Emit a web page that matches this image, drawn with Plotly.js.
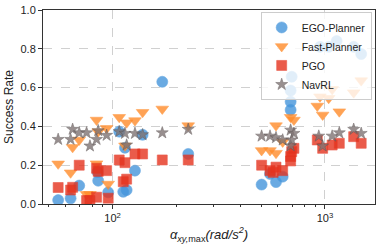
<!DOCTYPE html>
<html><head><meta charset="utf-8">
<script src="https://cdn.plot.ly/plotly-3.0.1.min.js"></script>
<style>html,body{margin:0;padding:0;background:#fff;}#chart{width:382px;height:252px;}</style>
</head><body><div id="chart"></div>
<script>
const egoX = [55.4, 63.4, 69.6, 85.5, 85.0, 95.3, 107.4, 114.3, 112.2, 116.4, 127.4, 138.4, 171.3, 227.0,
              503, 551, 588, 632, 697, 689, 689, 689, 947, 1041, 1135, 1365, 1481];
const egoY = [0.020, 0.029, 0.095, 0.120, 0.165, 0.060, 0.373, 0.290, 0.063, 0.072, 0.172, 0.357, 0.630, 0.258,
              0.100, 0.155, 0.113, 0.141, 0.656, 0.585, 0.527, 0.485, 0.810, 0.810, 0.840, 0.810, 0.773];

const fastX = [55.4, 63.4, 64.8, 69.6, 75.4, 78.2, 84.0, 84.0, 85.5, 93.7, 95.3, 107.4, 114.3, 116.4, 127.4, 138.4, 171.3, 227.0,
               503, 551, 588, 588, 632, 689, 714, 920, 947, 975, 1041, 1081, 1168, 1365, 1481];
const fastY = [0.207, 0.161, 0.292, 0.330, 0.050, 0.050, 0.433, 0.208, 0.373, 0.390, 0.103, 0.447, 0.300, 0.419, 0.430, 0.473, 0.490, 0.404,
               0.276, 0.276, 0.262, 0.404, 0.320, 0.447, 0.433, 0.505, 0.553, 0.459, 0.545, 0.591, 0.476, 0.574, 0.636];

const pgoX = [55.4, 63.4, 64.8, 69.6, 75.4, 78.2, 84.0, 84.0, 85.5, 93.7, 95.3, 107.4, 112.2, 114.3, 116.4, 127.4, 138.4, 171.3, 227.0,
              503, 551, 570, 588, 632, 689, 697, 714, 689, 920, 975, 1081, 1168, 1365, 1481];
const pgoY = [0.085, 0.072, 0.086, 0.200, 0.018, 0.018, 0.035, 0.184, 0.168, 0.172, 0.030, 0.227, 0.115, 0.213, 0.128, 0.258, 0.258, 0.227, 0.227,
              0.200, 0.172, 0.163, 0.190, 0.172, 0.245, 0.270, 0.287, 0.222, 0.330, 0.287, 0.304, 0.313, 0.347, 0.313];

const navX = [55.4, 63.4, 64.8, 69.6, 75.4, 78.2, 84.0, 85.5, 93.7, 107.4, 114.3, 116.4, 127.4, 138.4, 171.3, 227.0,
              503, 551, 588, 632, 689, 714, 689, 697, 935, 975, 1081, 1168, 1365, 1481];
const navY = [0.333, 0.333, 0.385, 0.367, 0.367, 0.299, 0.333, 0.378, 0.354, 0.373, 0.364, 0.304, 0.364, 0.357, 0.367, 0.385,
              0.350, 0.350, 0.342, 0.330, 0.381, 0.364, 0.300, 0.330, 0.350, 0.299, 0.350, 0.367, 0.385, 0.364];

const seriesNames = ['EGO-Planner', 'Fast-Planner', 'PGO', 'NavRL'];
const xTickVals = [100, 1000];
const xTickText = ['10<sup>2</sup>', '10<sup>3</sup>'];
const xMinorVals = [50, 60, 70, 80, 90, 200, 300, 400, 500, 600, 700, 800, 900];
const yTickVals = [0, 0.2, 0.4, 0.6, 0.8, 1.0];
const yTickText = ['0.0', '0.2', '0.4', '0.6', '0.8', '1.0'];

function tr(x, y, name, symbol, color, size, lc) {
  return {x: x, y: y, name: name, type: 'scatter', mode: 'markers',
    marker: {symbol: symbol, color: color, size: size, opacity: 0.8, line: {width: 0.6, color: lc}}};
}
const data = [
  tr(egoX, egoY, seriesNames[0], 'circle', '#4596dc', 11, '#4596dc'),
  tr(fastX, fastY, seriesNames[1], 'triangle-down', '#ff8c2a', 11, '#ff8c2a'),
  tr(pgoX, pgoY, seriesNames[2], 'square', '#e5331e', 10, '#e5331e'),
  tr(navX, navY, seriesNames[3], 'star', '#7f7474', 9, '#5e5555')
];
const font = {family: 'Liberation Sans, Arial, sans-serif', size: 11, color: '#222'};
const layout = {
  width: 382, height: 252,
  margin: {l: 43, r: 7, t: 10, b: 48},
  paper_bgcolor: '#fff', plot_bgcolor: '#fff',
  font: font,
  showlegend: true,
  legend: {x: 0.99, xanchor: 'right', y: 0.99, yanchor: 'top',
    bgcolor: 'rgba(255,255,255,0.8)', bordercolor: '#cccccc', borderwidth: 1,
    font: {family: 'Liberation Sans, Arial, sans-serif', size: 10.5, color: '#222'},
    itemsizing: 'trace', itemwidth: 30, tracegroupgap: 0},
  xaxis: {type: 'log', range: [Math.log10(47.0), Math.log10(1720)],
    tickvals: xTickVals, ticktext: xTickText, ticks: 'outside', ticklen: 4, tickcolor: '#333',
    minor: {tickvals: xMinorVals, ticks: 'outside', ticklen: 2, tickcolor: '#333', showgrid: false},
    showgrid: true, gridcolor: '#d0d0d0', griddash: 'dash', gridwidth: 1,
    showline: true, linecolor: '#333', linewidth: 1, mirror: true, zeroline: false,
    tickfont: {size: 11, color: '#222'},
    title: {text: '<i>α<sub>xy,</sub></i><sub>max</sub><i>(rad/s<sup>2</sup>)</i>', font: {size: 13, color: '#222'}, standoff: 6}},
  yaxis: {range: [0, 1.0], tickvals: yTickVals, ticktext: yTickText, ticks: 'outside', ticklen: 4, tickcolor: '#333',
    showgrid: true, gridcolor: '#d0d0d0', griddash: 'dash', gridwidth: 1,
    showline: true, linecolor: '#333', linewidth: 1, mirror: true, zeroline: false,
    tickfont: {size: 11, color: '#222'},
    title: {text: 'Success Rate', font: {size: 12, color: '#222'}, standoff: 4}}
};
Plotly.newPlot('chart', data, layout, {staticPlot: true, displayModeBar: false});
</script></body></html>
